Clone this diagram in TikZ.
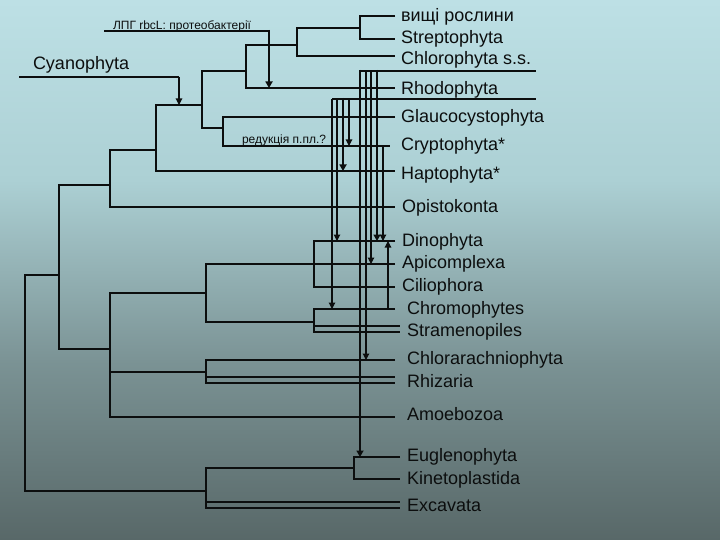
\documentclass[tikz,border=0pt]{standalone}
\usepackage{fontspec}
\setmainfont{Liberation Sans}
\usetikzlibrary{arrows.meta}
\definecolor{bgA}{RGB}{189,224,229}
\definecolor{bgB}{RGB}{172,208,212}
\definecolor{bgC}{RGB}{123,147,149}
\definecolor{bgD}{RGB}{88,104,104}
\definecolor{ink}{RGB}{12,14,14}
\tikzset{
  branch/.style={draw=ink, line width=1.1pt},
  thinarr/.style={draw=ink, line width=1.1pt, -{Triangle[width=6.5pt,length=6.5pt]}},
  thickarr/.style={draw=ink, line width=2.5pt, -{Triangle[width=7pt,length=6.5pt]}},
  leaf/.style={anchor=base west, inner sep=0pt, outer sep=0pt, text=ink, font=\fontsize{18}{20}\selectfont},
  note/.style={anchor=base west, inner sep=0pt, outer sep=0pt, text=ink, font=\fontsize{12}{14}\selectfont},
}
\begin{document}
\begin{tikzpicture}[x=1pt, y=-1pt]
\useasboundingbox (0,0) rectangle (720,540);
% background
\shade[top color=bgA, bottom color=bgB] (0,0) rectangle (720,181);
\shade[top color=bgB, bottom color=bgC] (0,180) rectangle (720,361);
\shade[top color=bgC, bottom color=bgD] (0,360) rectangle (720,540);

% labels
\node[leaf] (vr)  at (401,22)  {вищі рослини};
\node[leaf] (str) at (401,44)  {Streptophyta};
\node[leaf] (chl) at (401,65)  {Chlorophyta s.s.};
\node[leaf] (rho) at (401,95)  {Rhodophyta};
\node[leaf] (gla) at (401,123) {Glaucocystophyta};
\node[leaf] (cry) at (401,151) {Cryptophyta*};
\node[leaf] (hap) at (401,180) {Haptophyta*};
\node[leaf] (opi) at (402,212) {Opistokonta};
\node[leaf] (din) at (402,246) {Dinophyta};
\node[leaf] (api) at (402,268) {Apicomplexa};
\node[leaf] (cil) at (402,291) {Ciliophora};
\node[leaf] (chr) at (407,314) {Chromophytes};
\node[leaf] (stm) at (407,336) {Stramenopiles};
\node[leaf] (cra) at (407,364) {Chlorarachniophyta};
\node[leaf] (rhi) at (407,387) {Rhizaria};
\node[leaf] (amo) at (407,420) {Amoebozoa};
\node[leaf] (eug) at (407,461) {Euglenophyta};
\node[leaf] (kin) at (407,484) {Kinetoplastida};
\node[leaf] (exc) at (407,511) {Excavata};
\node[leaf] (cya) at (33,70)   {Cyanophyta};
\node[note] (lpg) at (113,30)  {ЛПГ rbcL: протеобактерії};
\node[note] (red) at (242,144) {редукція п.пл.?};

% tree
\draw[branch] (395,16) -- (360,16) -- (360,39) -- (395,39);
\draw[branch] (360,28) -- (297,28) -- (297,56) -- (395,56);
\draw[branch] (297,45) -- (246,45) -- (246,88) -- (395,88);
\draw[branch] (246,71) -- (202,71) -- (202,128) -- (223,128);
\draw[branch] (395,117) -- (223,117) -- (223,146) -- (390,146);
\draw[branch] (202,105) -- (156,105) -- (156,171) -- (395,171);
\draw[branch] (156,150) -- (110,150) -- (110,207) -- (395,207);
\draw[branch] (110,185) -- (59,185) -- (59,349) -- (110,349);
\draw[branch] (59,275) -- (25,275) -- (25,491) -- (206,491);
\draw[branch] (206,293) -- (110,293) -- (110,417) -- (395,417);
\draw[branch] (110,372) -- (206,372);
\draw[branch] (395,264) -- (206,264) -- (206,322) -- (314,322);
\draw[branch] (395,241) -- (314,241) -- (314,287) -- (395,287);
\draw[branch] (395,309) -- (314,309) -- (314,332) -- (400,332);
\draw[branch] (314,326) -- (400,326);
\draw[branch] (395,360) -- (206,360) -- (206,383) -- (395,383);
\draw[branch] (206,377) -- (395,377);
\draw[branch] (354,468) -- (206,468) -- (206,508) -- (400,508);
\draw[branch] (206,502) -- (400,502);
\draw[branch] (400,457) -- (354,457) -- (354,479) -- (400,479);

% separators
\draw[branch] (360,71) -- (536,71);
\draw[branch] (332,99) -- (536,99);

% transfer arrows
\draw[branch] (104,31) -- (269,31);
\draw[thickarr] (269,30) -- (269,88);
\draw[branch] (19,77) -- (179,77);
\draw[thinarr] (179,77) -- (179,105);

\draw[thickarr] (360,70) -- (360,457);
\draw[thinarr] (366,71) -- (366,360);
\draw[thinarr] (371,71) -- (371,264);
\draw[thickarr] (377,70) -- (377,241);

\draw[thinarr] (332,99) -- (332,309);
\draw[thinarr] (337,99) -- (337,241);
\draw[thickarr] (343,98) -- (343,171);
\draw[thinarr] (349,99) -- (349,146);

\draw[thinarr] (383,146) -- (383,241);
\draw[thinarr] (388,309) -- (388,241);
\end{tikzpicture}
\end{document}
